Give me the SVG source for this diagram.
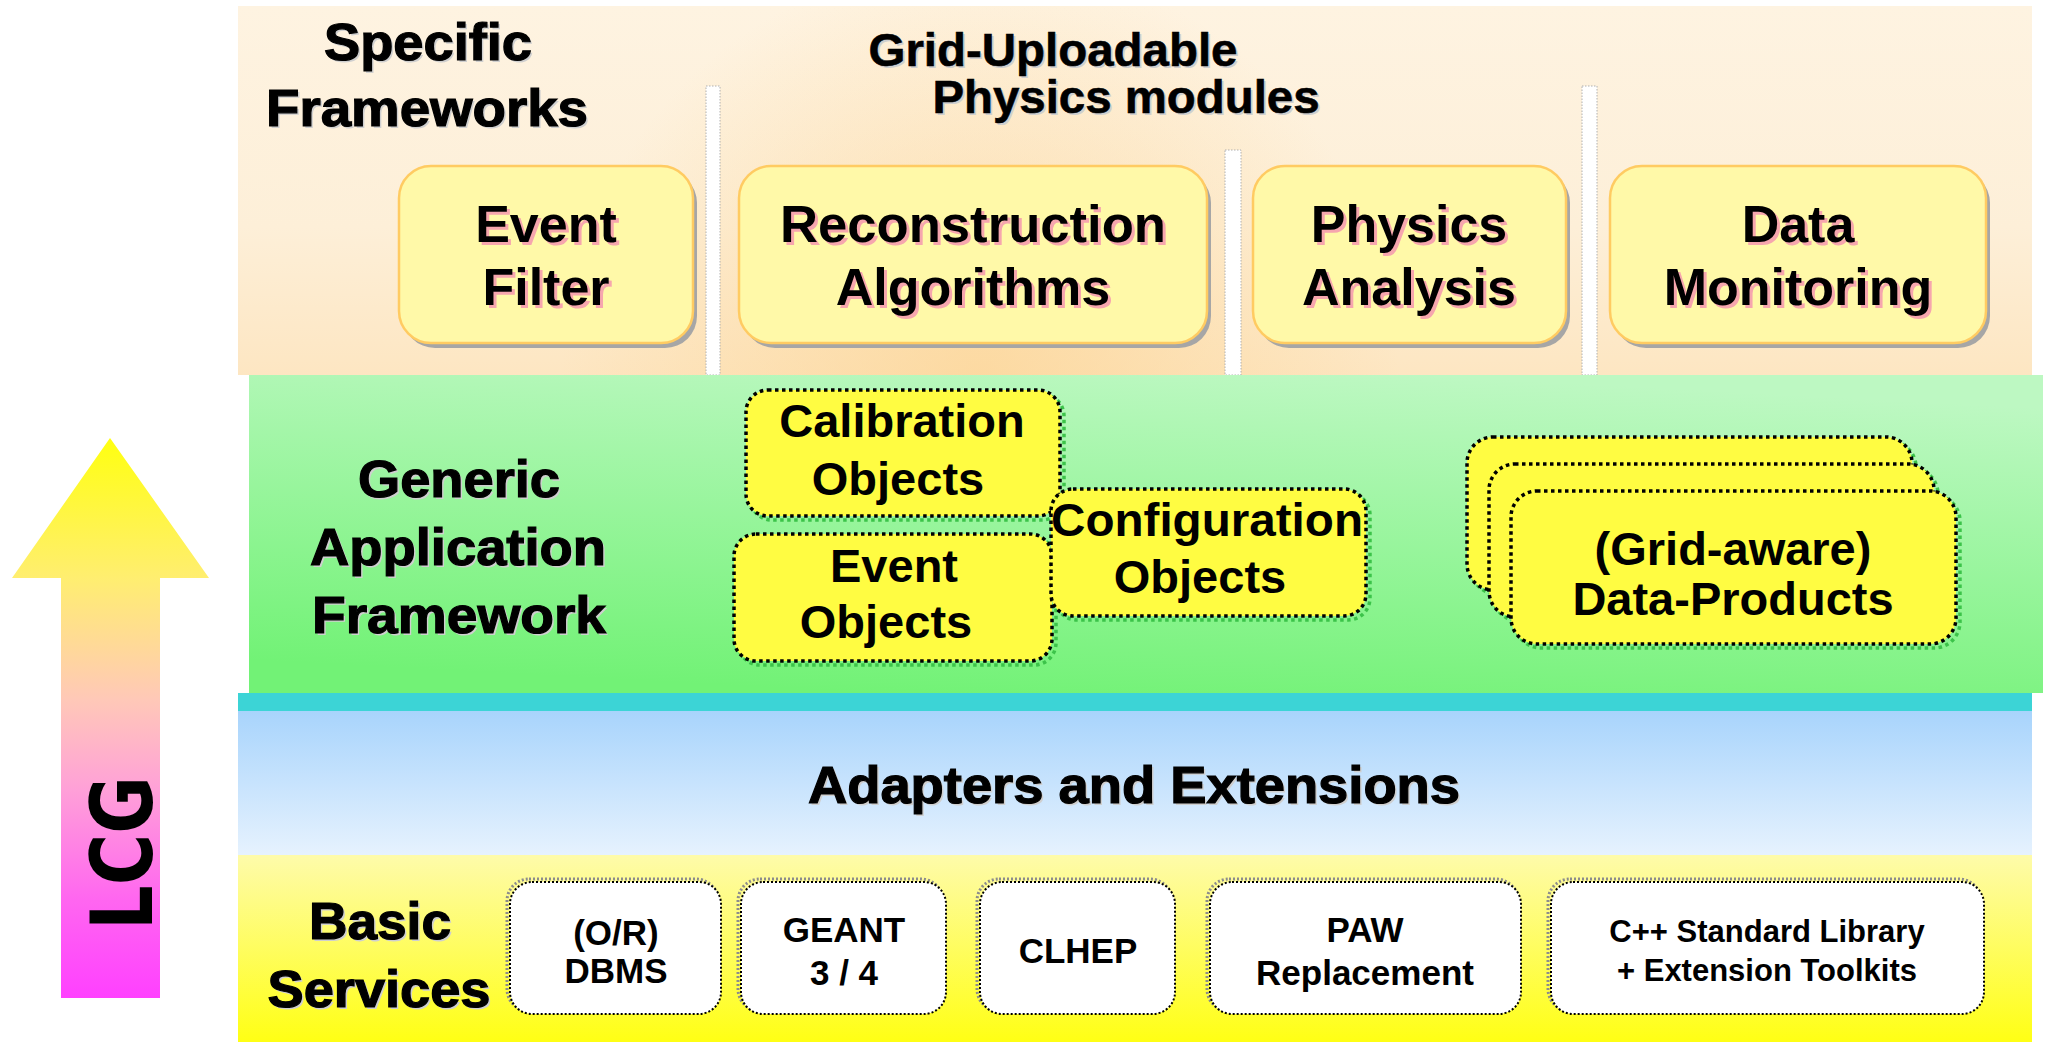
<svg xmlns="http://www.w3.org/2000/svg" width="2049" height="1042" viewBox="0 0 2049 1042">
<defs>
  <linearGradient id="gTop" x1="0" y1="0" x2="0" y2="1">
    <stop offset="0" stop-color="#FEF3E1"/>
    <stop offset="0.6" stop-color="#FDEFD8"/>
    <stop offset="1" stop-color="#FDE6C2"/>
  </linearGradient>
  <radialGradient id="gTopGlow" cx="980" cy="380" r="420" gradientUnits="userSpaceOnUse">
    <stop offset="0" stop-color="#FCD596" stop-opacity="0.75"/>
    <stop offset="1" stop-color="#FCD596" stop-opacity="0"/>
  </radialGradient>
  <linearGradient id="gGreen" x1="0.65" y1="0" x2="0.35" y2="1">
    <stop offset="0" stop-color="#BDF8C2"/>
    <stop offset="1" stop-color="#72F276"/>
  </linearGradient>
  <linearGradient id="gBlue" x1="0" y1="0" x2="0" y2="1">
    <stop offset="0" stop-color="#A8D4FC"/>
    <stop offset="1" stop-color="#E6F2FE"/>
  </linearGradient>
  <linearGradient id="gYellow" x1="0" y1="0" x2="0" y2="1">
    <stop offset="0" stop-color="#FEFBAA"/>
    <stop offset="1" stop-color="#FFFF14"/>
  </linearGradient>
  <linearGradient id="gArrow" gradientUnits="userSpaceOnUse" x1="0" y1="438" x2="0" y2="998">
    <stop offset="0" stop-color="#FFFF10"/>
    <stop offset="0.25" stop-color="#FFEE70"/>
    <stop offset="0.468" stop-color="#FFC8B8"/>
    <stop offset="0.629" stop-color="#FFA0D8"/>
    <stop offset="0.825" stop-color="#FF66F0"/>
    <stop offset="1" stop-color="#FF40FF"/>
  </linearGradient>
  <style>
    text { font-family: "Liberation Sans", Arial, sans-serif; font-weight: bold; text-anchor: middle; }
    .title { font-size: 52px; fill: #000; stroke: #000; stroke-width: 1.2; }
    .titleSh { font-size: 52px; fill: #CFCFCF; }
    .boxTxt { font-size: 52px; fill: #000; }
    .boxSh { font-size: 52px; fill: #F6A6AE; }
    .objTxt { font-size: 47px; fill: #000; }
    .svcTxt { font-size: 35px; fill: #000; }
    .svcTxtS { font-size: 31px; fill: #000; }
    .topBox { fill: #FFF9A8; stroke: #FFCB62; stroke-width: 2.5; }
    .topBoxSh { fill: #A6A6A6; }
    .obj { fill: #FFFC42; stroke: #000; stroke-width: 3.5; stroke-dasharray: 3.5 3.5; }
    .objSh { fill: none; stroke: #3CC34A; stroke-width: 3.5; stroke-dasharray: 3.5 3.5; }
    .svc { fill: #FFFFFF; stroke: #000; stroke-width: 2; stroke-dasharray: 2 2; }
    .svcSh { fill: none; stroke: #8C8C8C; stroke-width: 3; stroke-dasharray: 2 2; }
    .sep { fill: #FFFFFF; stroke: #B0B0B0; stroke-width: 1; stroke-dasharray: 1.5 1.5; }
  </style>
</defs>

<!-- Bands -->
<g id="bands">
  <rect x="238" y="6" width="1794" height="369" fill="url(#gTop)"/>
  <rect x="238" y="6" width="1794" height="369" fill="url(#gTopGlow)"/>
  <rect class="sep" x="706" y="86" width="14" height="289"/>
  <rect class="sep" x="1225" y="150" width="16" height="225"/>
  <rect class="sep" x="1582" y="86" width="15" height="289"/>
  <rect x="249" y="375" width="1794" height="318" fill="url(#gGreen)"/>
  <rect x="238" y="693" width="1794" height="18" fill="#3CD4D6"/>
  <rect x="238" y="711" width="1794" height="144" fill="url(#gBlue)"/>
  <rect x="238" y="855" width="1794" height="187" fill="url(#gYellow)"/>
</g>

<!-- LCG arrow -->
<g id="lcg">
  <polygon points="110,438 209,578 160,578 160,998 61,998 61,578 12,578" fill="url(#gArrow)"/>
  <text x="0" y="0" transform="translate(152,853) rotate(-90)" style="font-family:'DejaVu Sans', sans-serif; font-size:86px; font-weight:bold;" textLength="154" lengthAdjust="spacingAndGlyphs">LCG</text>
</g>

<!-- Layer titles -->
<g id="title-specific">
  <text class="titleSh" x="430" y="62" textLength="208" lengthAdjust="spacingAndGlyphs">Specific</text>
  <text class="title" x="428" y="60" textLength="208" lengthAdjust="spacingAndGlyphs">Specific</text>
  <text class="titleSh" x="429" y="128" textLength="322" lengthAdjust="spacingAndGlyphs">Frameworks</text>
  <text class="title" x="427" y="126" textLength="322" lengthAdjust="spacingAndGlyphs">Frameworks</text>
</g>
<g id="title-grid">
  <text class="titleSh" style="font-size:47px" x="1055" y="68" textLength="369" lengthAdjust="spacingAndGlyphs">Grid-Uploadable</text>
  <text class="title" style="font-size:47px;stroke-width:0.6" x="1053" y="66" textLength="369" lengthAdjust="spacingAndGlyphs">Grid-Uploadable</text>
  <text class="titleSh" style="font-size:47px" x="1128" y="115" textLength="387" lengthAdjust="spacingAndGlyphs">Physics modules</text>
  <text class="title" style="font-size:47px;stroke-width:0.6" x="1126" y="113" textLength="387" lengthAdjust="spacingAndGlyphs">Physics modules</text>
</g>
<g id="title-generic">
  <text class="titleSh" x="461" y="499" textLength="202" lengthAdjust="spacingAndGlyphs">Generic</text>
  <text class="title" x="459" y="497" textLength="202" lengthAdjust="spacingAndGlyphs">Generic</text>
  <text class="titleSh" x="460" y="567" textLength="296" lengthAdjust="spacingAndGlyphs">Application</text>
  <text class="title" x="458" y="565" textLength="296" lengthAdjust="spacingAndGlyphs">Application</text>
  <text class="titleSh" x="461" y="635" textLength="294" lengthAdjust="spacingAndGlyphs">Framework</text>
  <text class="title" x="459" y="633" textLength="294" lengthAdjust="spacingAndGlyphs">Framework</text>
</g>
<g id="title-adapters">
  <text class="titleSh" x="1136" y="805" textLength="652" lengthAdjust="spacingAndGlyphs">Adapters and Extensions</text>
  <text class="title" x="1134" y="803" textLength="652" lengthAdjust="spacingAndGlyphs">Adapters and Extensions</text>
</g>
<g id="title-basic">
  <text class="titleSh" x="382" y="941" textLength="142" lengthAdjust="spacingAndGlyphs">Basic</text>
  <text class="title" x="380" y="939" textLength="142" lengthAdjust="spacingAndGlyphs">Basic</text>
  <text class="titleSh" x="381" y="1009" textLength="223" lengthAdjust="spacingAndGlyphs">Services</text>
  <text class="title" x="379" y="1007" textLength="223" lengthAdjust="spacingAndGlyphs">Services</text>
</g>

<!-- Specific framework modules -->
<g id="event-filter">
  <rect class="topBoxSh" x="403" y="171" width="294" height="177" rx="32"/>
  <rect class="topBox" x="399" y="166" width="294" height="177" rx="32"/>
  <text class="boxSh" x="549" y="245">Event</text>
  <text class="boxTxt" x="546" y="242">Event</text>
  <text class="boxSh" x="549" y="308">Filter</text>
  <text class="boxTxt" x="546" y="305">Filter</text>
</g>
<g id="reconstruction">
  <rect class="topBoxSh" x="743" y="171" width="468" height="177" rx="32"/>
  <rect class="topBox" x="739" y="166" width="468" height="177" rx="32"/>
  <text class="boxSh" x="976" y="245" textLength="386" lengthAdjust="spacingAndGlyphs">Reconstruction</text>
  <text class="boxTxt" x="973" y="242" textLength="386" lengthAdjust="spacingAndGlyphs">Reconstruction</text>
  <text class="boxSh" x="976" y="308">Algorithms</text>
  <text class="boxTxt" x="973" y="305">Algorithms</text>
</g>
<g id="physics-analysis">
  <rect class="topBoxSh" x="1257" y="171" width="313" height="177" rx="32"/>
  <rect class="topBox" x="1253" y="166" width="313" height="177" rx="32"/>
  <text class="boxSh" x="1412" y="245">Physics</text>
  <text class="boxTxt" x="1409" y="242">Physics</text>
  <text class="boxSh" x="1412" y="308">Analysis</text>
  <text class="boxTxt" x="1409" y="305">Analysis</text>
</g>
<g id="data-monitoring">
  <rect class="topBoxSh" x="1614" y="171" width="376" height="177" rx="32"/>
  <rect class="topBox" x="1610" y="166" width="376" height="177" rx="32"/>
  <text class="boxSh" x="1801" y="245">Data</text>
  <text class="boxTxt" x="1798" y="242">Data</text>
  <text class="boxSh" x="1801" y="308">Monitoring</text>
  <text class="boxTxt" x="1798" y="305">Monitoring</text>
</g>

<!-- Generic application framework objects -->
<g id="calibration-objects">
  <rect class="objSh" x="750" y="394" width="314" height="126" rx="22"/>
  <rect class="obj" x="746" y="390" width="314" height="126" rx="22"/>
  <text class="objTxt" x="902" y="437">Calibration</text>
  <text class="objTxt" x="898" y="495">Objects</text>
</g>
<g id="event-objects">
  <rect class="objSh" x="738" y="538" width="318" height="127" rx="22"/>
  <rect class="obj" x="734" y="534" width="318" height="127" rx="22"/>
  <text class="objTxt" x="894" y="582">Event</text>
  <text class="objTxt" x="886" y="638">Objects</text>
</g>
<g id="configuration-objects">
  <rect class="objSh" x="1055" y="493" width="315" height="127" rx="22"/>
  <rect class="obj" x="1051" y="489" width="315" height="127" rx="22"/>
  <text class="objTxt" x="1207" y="536" textLength="312" lengthAdjust="spacingAndGlyphs">Configuration</text>
  <text class="objTxt" x="1200" y="593">Objects</text>
</g>
<g id="data-products">
  <rect class="objSh" x="1471" y="441" width="445" height="153" rx="26"/>
  <rect class="obj" x="1467" y="437" width="445" height="153" rx="26"/>
  <rect class="objSh" x="1493" y="468" width="445" height="153" rx="26"/>
  <rect class="obj" x="1489" y="464" width="445" height="153" rx="26"/>
  <rect class="objSh" x="1515" y="495" width="445" height="153" rx="26"/>
  <rect class="obj" x="1511" y="491" width="445" height="153" rx="26"/>
  <text class="objTxt" x="1733" y="565">(Grid-aware)</text>
  <text class="objTxt" x="1733" y="615">Data-Products</text>
</g>

<!-- Basic services -->
<g id="dbms">
  <rect class="svcSh" x="507" y="879" width="211" height="132" rx="22"/>
  <rect class="svc" x="510" y="882" width="211" height="132" rx="22"/>
  <text class="svcTxt" x="616" y="945">(O/R)</text>
  <text class="svcTxt" x="616" y="983">DBMS</text>
</g>
<g id="geant">
  <rect class="svcSh" x="738" y="879" width="205" height="132" rx="22"/>
  <rect class="svc" x="741" y="882" width="205" height="132" rx="22"/>
  <text class="svcTxt" x="844" y="942">GEANT</text>
  <text class="svcTxt" x="844" y="985">3 / 4</text>
</g>
<g id="clhep">
  <rect class="svcSh" x="977" y="879" width="195" height="132" rx="22"/>
  <rect class="svc" x="980" y="882" width="195" height="132" rx="22"/>
  <text class="svcTxt" x="1078" y="963">CLHEP</text>
</g>
<g id="paw">
  <rect class="svcSh" x="1207" y="879" width="311" height="132" rx="22"/>
  <rect class="svc" x="1210" y="882" width="311" height="132" rx="22"/>
  <text class="svcTxt" x="1365" y="942">PAW</text>
  <text class="svcTxt" x="1365" y="985">Replacement</text>
</g>
<g id="cpp">
  <rect class="svcSh" x="1548" y="879" width="433" height="132" rx="22"/>
  <rect class="svc" x="1551" y="882" width="433" height="132" rx="22"/>
  <text class="svcTxtS" x="1767" y="942">C++ Standard Library</text>
  <text class="svcTxtS" x="1767" y="981">+ Extension Toolkits</text>
</g>

<g id="connectors"></g>
</svg>
